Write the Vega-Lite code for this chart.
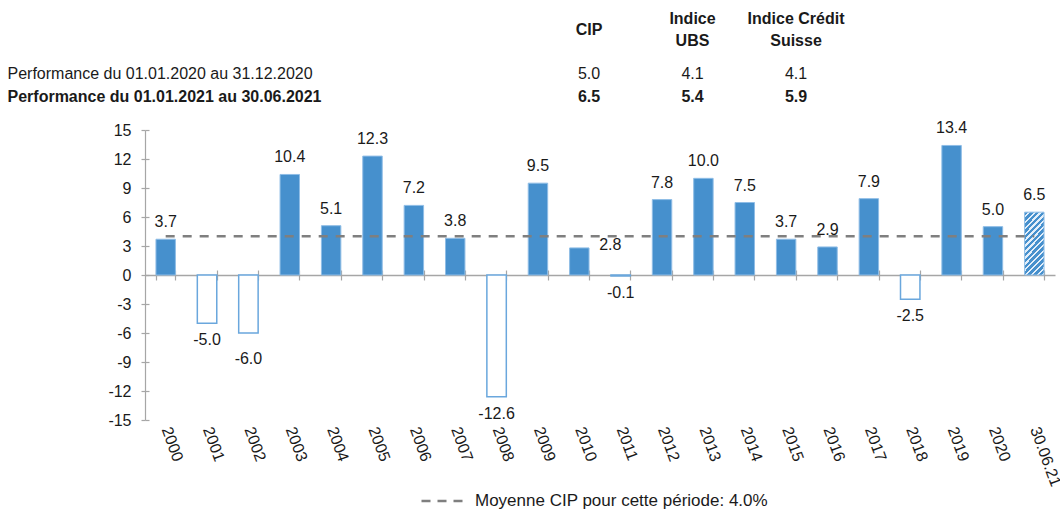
{
  "$schema": "https://vega.github.io/schema/vega-lite/v6.json",
  "width": 910,
  "height": 290,
  "autosize": "none",
  "padding": {"left": 145, "top": 130, "right": 5, "bottom": 90},
  "background": "white",
  "config": {"view": {"stroke": null}, "font": "Liberation Sans"},
  "datasets": {
    "perf": [
      {"annee": "2000", "v": 3.7, "moy": 4.0},
      {"annee": "2001", "v": -5.0, "moy": 4.0},
      {"annee": "2002", "v": -6.0, "moy": 4.0},
      {"annee": "2003", "v": 10.4, "moy": 4.0},
      {"annee": "2004", "v": 5.1, "moy": 4.0},
      {"annee": "2005", "v": 12.3, "moy": 4.0},
      {"annee": "2006", "v": 7.2, "moy": 4.0},
      {"annee": "2007", "v": 3.8, "moy": 4.0},
      {"annee": "2008", "v": -12.6, "moy": 4.0},
      {"annee": "2009", "v": 9.5, "moy": 4.0},
      {"annee": "2010", "v": 2.8, "moy": 4.0},
      {"annee": "2011", "v": -0.1, "moy": 4.0},
      {"annee": "2012", "v": 7.8, "moy": 4.0},
      {"annee": "2013", "v": 10.0, "moy": 4.0},
      {"annee": "2014", "v": 7.5, "moy": 4.0},
      {"annee": "2015", "v": 3.7, "moy": 4.0},
      {"annee": "2016", "v": 2.9, "moy": 4.0},
      {"annee": "2017", "v": 7.9, "moy": 4.0},
      {"annee": "2018", "v": -2.5, "moy": 4.0},
      {"annee": "2019", "v": 13.4, "moy": 4.0},
      {"annee": "2020", "v": 5.0, "moy": 4.0},
      {"annee": "30.06.21", "v": 6.5, "moy": 4.0}
    ],
    "entete": [
      {"ligne": "entete", "colonne": "CIP", "texte": "CIP"},
      {"ligne": "entete", "colonne": "UBS", "texte": "Indice\nUBS"},
      {"ligne": "entete", "colonne": "CS", "texte": "Indice Crédit\nSuisse"},
      {"ligne": "2020", "colonne": "libelle", "texte": "Performance du 01.01.2020 au 31.12.2020"},
      {"ligne": "2020", "colonne": "CIP", "texte": "5.0"},
      {"ligne": "2020", "colonne": "UBS", "texte": "4.1"},
      {"ligne": "2020", "colonne": "CS", "texte": "4.1"},
      {"ligne": "2021", "colonne": "libelle", "texte": "Performance du 01.01.2021 au 30.06.2021"},
      {"ligne": "2021", "colonne": "CIP", "texte": "6.5"},
      {"ligne": "2021", "colonne": "UBS", "texte": "5.4"},
      {"ligne": "2021", "colonne": "CS", "texte": "5.9"}
    ]
  },
  "layer": [
    {
      "data": {"name": "perf"},
      "resolve": {"axis": {"x": "independent", "y": "independent"}},
      "encoding": {
        "x": {
          "field": "annee", "type": "nominal", "sort": null,
          "scale": {
            "type": "band",
            "domain": ["2000","2001","2002","2003","2004","2005","2006","2007","2008","2009","2010","2011","2012","2013","2014","2015","2016","2017","2018","2019","2020","30.06.21"],
            "paddingInner": 0.53, "paddingOuter": 0.265
          }
        }
      },
      "layer": [
        {
          "transform": [{"filter": "datum.annee !== '30.06.21'"}],
          "mark": {"type": "bar"},
          "encoding": {
            "x": {
              "field": "annee", "type": "nominal", "sort": null,
              "axis": {
                "orient": "bottom", "offset": -145, "title": null,
                "domainColor": "#a6a6a6", "domainWidth": 1.5,
                "tickColor": "#a6a6a6", "tickSize": 5, "tickWidth": 1.2, "tickBand": "extent",
                "labelAngle": 70, "labelAlign": "left", "labelBaseline": "middle",
                "labelPadding": 147, "labelFontSize": 16, "labelFont": "Liberation Sans",
                "labelColor": "#1a1a1a"
              }
            },
            "y": {
              "field": "v", "type": "quantitative",
              "scale": {"domain": [-15, 15], "nice": false},
              "axis": {
                "orient": "left", "title": null,
                "values": [-15,-12,-9,-6,-3,0,3,6,9,12,15],
                "labelExpr": "replace(datum.label, '\u2212', '-')",
                "grid": false,
                "domainColor": "#a6a6a6", "domainWidth": 1.2,
                "tickColor": "#a6a6a6", "tickSize": 4, "tickWidth": 1.2,
                "labelPadding": 10, "labelFontSize": 16, "labelFont": "Liberation Sans",
                "labelColor": "#1a1a1a"
              }
            },
            "fill": {"condition": {"test": "datum.v < 0", "value": "#ffffff"}, "value": "#4690cd"},
            "stroke": {"condition": {"test": "datum.v < 0", "value": "#6aa7dd"}, "value": "#8fbde6"},
            "strokeWidth": {"condition": {"test": "datum.v < 0", "value": 1.5}, "value": 1}
          }
        },
        {
          "transform": [{"filter": "datum.annee === '30.06.21'"}],
          "mark": {
            "type": "bar",
            "stroke": "#8fbde6",
            "strokeWidth": 1,
            "fill": {
              "gradient": "linear", "x1": 0, "y1": 0, "x2": 0.38, "y2": 1.2,
              "stops": [
                {"offset": 0, "color": "#4690cd"}, {"offset": 0.0429, "color": "#4690cd"}, {"offset": 0.0429, "color": "#e3eef9"}, {"offset": 0.0714, "color": "#e3eef9"},
                {"offset": 0.0714, "color": "#4690cd"}, {"offset": 0.1143, "color": "#4690cd"}, {"offset": 0.1143, "color": "#e3eef9"}, {"offset": 0.1429, "color": "#e3eef9"},
                {"offset": 0.1429, "color": "#4690cd"}, {"offset": 0.1857, "color": "#4690cd"}, {"offset": 0.1857, "color": "#e3eef9"}, {"offset": 0.2143, "color": "#e3eef9"},
                {"offset": 0.2143, "color": "#4690cd"}, {"offset": 0.2571, "color": "#4690cd"}, {"offset": 0.2571, "color": "#e3eef9"}, {"offset": 0.2857, "color": "#e3eef9"},
                {"offset": 0.2857, "color": "#4690cd"}, {"offset": 0.3286, "color": "#4690cd"}, {"offset": 0.3286, "color": "#e3eef9"}, {"offset": 0.3571, "color": "#e3eef9"},
                {"offset": 0.3571, "color": "#4690cd"}, {"offset": 0.4, "color": "#4690cd"}, {"offset": 0.4, "color": "#e3eef9"}, {"offset": 0.4286, "color": "#e3eef9"},
                {"offset": 0.4286, "color": "#4690cd"}, {"offset": 0.4714, "color": "#4690cd"}, {"offset": 0.4714, "color": "#e3eef9"}, {"offset": 0.5, "color": "#e3eef9"},
                {"offset": 0.5, "color": "#4690cd"}, {"offset": 0.5429, "color": "#4690cd"}, {"offset": 0.5429, "color": "#e3eef9"}, {"offset": 0.5714, "color": "#e3eef9"},
                {"offset": 0.5714, "color": "#4690cd"}, {"offset": 0.6143, "color": "#4690cd"}, {"offset": 0.6143, "color": "#e3eef9"}, {"offset": 0.6429, "color": "#e3eef9"},
                {"offset": 0.6429, "color": "#4690cd"}, {"offset": 0.6857, "color": "#4690cd"}, {"offset": 0.6857, "color": "#e3eef9"}, {"offset": 0.7143, "color": "#e3eef9"},
                {"offset": 0.7143, "color": "#4690cd"}, {"offset": 0.7571, "color": "#4690cd"}, {"offset": 0.7571, "color": "#e3eef9"}, {"offset": 0.7857, "color": "#e3eef9"},
                {"offset": 0.7857, "color": "#4690cd"}, {"offset": 0.8286, "color": "#4690cd"}, {"offset": 0.8286, "color": "#e3eef9"}, {"offset": 0.8571, "color": "#e3eef9"},
                {"offset": 0.8571, "color": "#4690cd"}, {"offset": 0.9, "color": "#4690cd"}, {"offset": 0.9, "color": "#e3eef9"}, {"offset": 0.9286, "color": "#e3eef9"},
                {"offset": 0.9286, "color": "#4690cd"}, {"offset": 0.9714, "color": "#4690cd"}, {"offset": 0.9714, "color": "#e3eef9"}, {"offset": 1, "color": "#e3eef9"}
              ]
            }
          },
          "encoding": {
            "x": {"field": "annee", "type": "nominal", "sort": null, "axis": null},
            "y": {"field": "v", "type": "quantitative", "axis": null}
          }
        },
        {
          "mark": {"type": "line", "strokeWidth": 2.5, "strokeDash": [9, 8]},
          "encoding": {
            "x": {
              "field": "annee", "type": "nominal", "sort": null,
              "axis": {
                "orient": "top", "offset": -145, "title": null,
                "labels": false, "domain": false,
                "tickColor": "#a6a6a6", "tickSize": 5, "tickWidth": 1.2, "tickBand": "extent"
              }
            },
            "y": {
              "field": "moy", "type": "quantitative",
              "axis": {
                "orient": "right", "offset": -910, "title": null,
                "labels": false, "domain": false, "grid": false,
                "values": [-15,-12,-9,-6,-3,0,3,6,9,12,15],
                "tickColor": "#a6a6a6", "tickSize": 4, "tickWidth": 1.2
              }
            },
            "color": {
              "datum": "Moyenne CIP pour cette période: 4.0%",
              "scale": {"range": ["#7f7f7f"]},
              "legend": {
                "title": null, "orient": "none", "legendX": 275, "legendY": 346,
                "symbolType": "stroke", "symbolDash": [9, 7], "symbolStrokeWidth": 2.5,
                "symbolSize": 2209, "labelOffset": 5, "labelLimit": 500,
                "labelFontSize": 17, "labelFont": "Liberation Sans", "labelColor": "#1a1a1a"
              }
            }
          }
        },
        {
          "transform": [{"filter": "datum.v >= 0 && datum.annee !== '2010'"}],
          "mark": {"type": "text", "fontSize": 16, "font": "Liberation Sans", "color": "#1a1a1a", "baseline": "middle", "dy": -17,
                   "text": {"expr": "replace(format(datum.v, '.1f'), '\u2212', '-')"}},
          "encoding": {
            "x": {"field": "annee", "type": "nominal", "sort": null, "axis": null},
            "y": {"field": "v", "type": "quantitative", "axis": null}
          }
        },
        {
          "transform": [{"filter": "datum.annee === '2010'"}],
          "mark": {"type": "text", "fontSize": 16, "font": "Liberation Sans", "color": "#1a1a1a", "baseline": "middle", "dx": 31, "dy": -3,
                   "text": {"expr": "replace(format(datum.v, '.1f'), '\u2212', '-')"}},
          "encoding": {
            "x": {"field": "annee", "type": "nominal", "sort": null, "axis": null},
            "y": {"field": "v", "type": "quantitative", "axis": null}
          }
        },
        {
          "transform": [{"filter": "datum.v < 0 && datum.annee !== '2002'"}],
          "mark": {"type": "text", "fontSize": 16, "font": "Liberation Sans", "color": "#1a1a1a", "baseline": "middle", "dy": 17,
                   "text": {"expr": "replace(format(datum.v, '.1f'), '\u2212', '-')"}},
          "encoding": {
            "x": {"field": "annee", "type": "nominal", "sort": null, "axis": null},
            "y": {"field": "v", "type": "quantitative", "axis": null}
          }
        },
        {
          "transform": [{"filter": "datum.annee === '2002'"}],
          "mark": {"type": "text", "fontSize": 16, "font": "Liberation Sans", "color": "#1a1a1a", "baseline": "middle", "dy": 26,
                   "text": {"expr": "replace(format(datum.v, '.1f'), '\u2212', '-')"}},
          "encoding": {
            "x": {"field": "annee", "type": "nominal", "sort": null, "axis": null},
            "y": {"field": "v", "type": "quantitative", "axis": null}
          }
        }
      ]
    },
    {
      "data": {"name": "entete"},
      "resolve": {"scale": {"x": "independent"}},
      "encoding": {
        "y": {
          "field": "ligne", "type": "nominal", "axis": null,
          "scale": {"type": "point", "domain": ["entete", "_", "2020", "2021"], "padding": 0, "range": [-100, -33.5]}
        },
        "text": {"field": "texte", "type": "nominal"}
      },
      "layer": [
        {
          "transform": [{"filter": "datum.colonne === 'libelle' && datum.ligne === '2020'"}],
          "mark": {"type": "text", "align": "left", "baseline": "middle", "fontSize": 16, "font": "Liberation Sans", "color": "#1a1a1a"},
          "encoding": {
            "x": {"field": "colonne", "type": "nominal", "axis": null,
                  "scale": {"type": "point", "domain": ["libelle"], "padding": 0, "range": [-138, -137]}}
          }
        },
        {
          "transform": [{"filter": "datum.colonne === 'libelle' && datum.ligne === '2021'"}],
          "mark": {"type": "text", "align": "left", "baseline": "middle", "fontSize": 16, "fontWeight": "bold", "font": "Liberation Sans", "color": "#1a1a1a"},
          "encoding": {
            "x": {"field": "colonne", "type": "nominal", "axis": null,
                  "scale": {"type": "point", "domain": ["libelle"], "padding": 0, "range": [-138, -137]}}
          }
        },
        {
          "transform": [{"filter": "datum.colonne !== 'libelle' && datum.ligne === '2020'"}],
          "mark": {"type": "text", "align": "center", "baseline": "middle", "fontSize": 16, "font": "Liberation Sans", "color": "#1a1a1a"},
          "encoding": {
            "x": {"field": "colonne", "type": "nominal", "axis": null,
                  "scale": {"type": "point", "domain": ["CIP", "UBS", "CS"], "padding": 0, "range": [444, 651]}}
          }
        },
        {
          "transform": [{"filter": "datum.colonne !== 'libelle' && (datum.ligne === '2021' || (datum.ligne === 'entete' && datum.colonne === 'CIP'))"}],
          "mark": {"type": "text", "align": "center", "baseline": "middle", "fontSize": 16, "fontWeight": "bold", "font": "Liberation Sans", "color": "#1a1a1a"},
          "encoding": {
            "x": {"field": "colonne", "type": "nominal", "axis": null,
                  "scale": {"type": "point", "domain": ["CIP", "UBS", "CS"], "padding": 0, "range": [444, 651]}}
          }
        },
        {
          "transform": [{"filter": "datum.ligne === 'entete' && datum.colonne !== 'CIP'"}],
          "mark": {"type": "text", "align": "center", "baseline": "middle", "fontSize": 16, "fontWeight": "bold", "font": "Liberation Sans", "color": "#1a1a1a", "lineBreak": "\n", "lineHeight": 22, "dy": -11},
          "encoding": {
            "x": {"field": "colonne", "type": "nominal", "axis": null,
                  "scale": {"type": "point", "domain": ["CIP", "UBS", "CS"], "padding": 0, "range": [444, 651]}}
          }
        }
      ]
    }
  ],
  "resolve": {"scale": {"x": "independent", "y": "independent", "color": "independent"}}
}
